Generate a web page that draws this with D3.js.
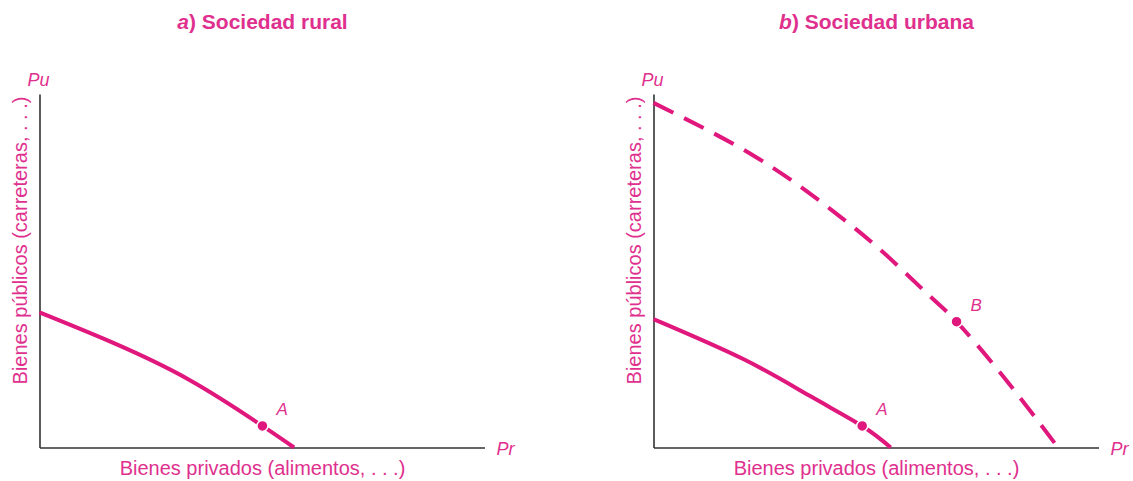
<!DOCTYPE html>
<html>
<head>
<meta charset="utf-8">
<script src="https://cdn.jsdelivr.net/npm/d3@7"></script>
<style>
  body { margin: 0; background: #fff; }
  text { font-family: "Liberation Sans", Arial, sans-serif; }
</style>
</head>
<body>
<div id="chart"></div>
<script>
// titles and axis texts
const titles = [["a", ") Sociedad rural"], ["b", ") Sociedad urbana"]];
const xLabel = "Bienes privados (alimentos, . . .)";
const yLabel = "Bienes públicos (carreteras, . . .)";

// frontier curves, x = Pr, y = Pu (0-100 units)
const ruralCurve = [[0, 38.2], [15.8, 30.0], [33.7, 19.1], [50.1, 6.1], [57.2, 0]];
const urbanOld = [[0, 36.3], [20.5, 24.8], [35.4, 14.4], [46.9, 6.1], [53.3, 0]];
const urbanNew = [[0, 97.5], [22.7, 82.4], [39.9, 67.3], [51.8, 55.0], [62.2, 42.7],
                  [68.1, 35.6], [78.6, 20.1], [90.9, 0]];

// labelled points
const ruralPoints = [{ name: "A", x: 50.1, y: 6.1 }];
const urbanPoints = [{ name: "A", x: 46.9, y: 6.1 }, { name: "B", x: 68.1, y: 35.6 }];

const pink = "#e0177c";
const textPink = "#e0308e";

const svg = d3.select("#chart").append("svg")
    .attr("width", 1133)
    .attr("height", 481);

const drawPanel = function(left, title, curves, points) {
    const width = 445, top = 94, bottom = 447.5;
    const g = svg.append("g").attr("transform", "translate(" + left + ",0)");

    const x = d3.scaleLinear().domain([0, 100]).range([0, width]);
    const y = d3.scaleLinear().domain([0, 100]).range([bottom, top]);

    // axes without ticks
    g.append("g")
        .attr("transform", "translate(0," + bottom + ")")
        .call(d3.axisBottom(x).ticks(0).tickSizeOuter(0))
        .select(".domain").attr("stroke", "#333").attr("stroke-width", 1.6);
    g.append("g")
        .call(d3.axisLeft(y).ticks(0).tickSizeOuter(0))
        .select(".domain").attr("stroke", "#333").attr("stroke-width", 1.6);

    const line = d3.line()
        .x(d => x(d[0]))
        .y(d => y(d[1]))
        .curve(d3.curveNatural);

    curves.forEach(c => {
        g.append("path")
            .datum(c.data)
            .attr("d", line)
            .attr("fill", "none")
            .attr("stroke", pink)
            .attr("stroke-width", 4)
            .attr("stroke-dasharray", c.dashed ? "22,12" : null);
    });

    g.selectAll(".pt").data(points).enter().append("circle")
        .attr("cx", d => x(d.x))
        .attr("cy", d => y(d.y))
        .attr("r", 5.5)
        .attr("fill", pink)
        .attr("stroke", "#fff")
        .attr("stroke-width", 1.5);

    g.selectAll(".lbl").data(points).enter().append("text")
        .attr("x", d => x(d.x) + 14)
        .attr("y", d => y(d.y) - 11)
        .attr("font-size", 17)
        .attr("font-style", "italic")
        .attr("fill", textPink)
        .text(d => d.name);

    // title
    const t = g.append("text")
        .attr("x", 223)
        .attr("y", 29)
        .attr("text-anchor", "middle")
        .attr("font-size", 21)
        .attr("font-weight", "bold")
        .attr("fill", textPink);
    t.append("tspan").attr("font-style", "italic").text(title[0]);
    t.append("tspan").text(title[1]);

    g.append("text")
        .attr("x", -12)
        .attr("y", 86)
        .attr("font-size", 18)
        .attr("font-style", "italic")
        .attr("fill", textPink)
        .text("Pu");
    g.append("text")
        .attr("x", width + 12)
        .attr("y", 455)
        .attr("font-size", 18)
        .attr("font-style", "italic")
        .attr("fill", textPink)
        .text("Pr");

    g.append("text")
        .attr("x", 223)
        .attr("y", 475)
        .attr("text-anchor", "middle")
        .attr("font-size", 20)
        .attr("fill", textPink)
        .text(xLabel);
    g.append("text")
        .attr("transform", "translate(-12.5,240.5) rotate(-90)")
        .attr("text-anchor", "middle")
        .attr("font-size", 20)
        .attr("fill", textPink)
        .text(yLabel);
};

drawPanel(39.5, titles[0], [{ data: ruralCurve }], ruralPoints);
drawPanel(653.5, titles[1], [{ data: urbanOld }, { data: urbanNew, dashed: true }], urbanPoints);
</script>
</body>
</html>
